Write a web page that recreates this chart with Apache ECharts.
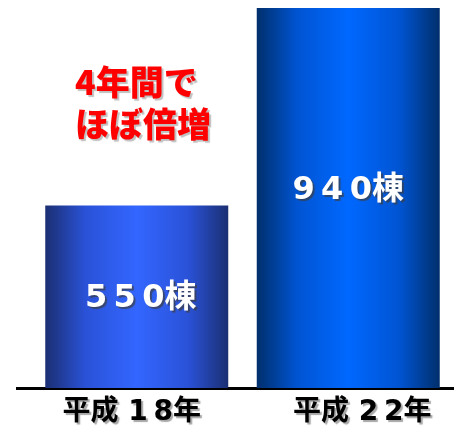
<!DOCTYPE html>
<html>
<head>
<meta charset="utf-8">
<script src="https://cdn.jsdelivr.net/npm/echarts@6/dist/echarts.min.js"></script>
<style>
  html, body { margin: 0; padding: 0; background: #fff; }
  #chart { width: 454px; height: 434px; }
</style>
</head>
<body>
<div id="chart"></div>
<script>
// Building counts by year
const years = ['平成 18年', '平成 22年'];
const counts = [550, 940];
const unit = '棟';
const headline = ['4年間で', 'ほぼ倍増'];

// Per-bar horizontal gradients: dark edges, bright centre
const barColors = [
  ['#1b2f72', '#2a52d8', '#3366ff', '#2a52d8', '#1b2f72'],
  ['#002f6c', '#0054d2', '#0068ff', '#0054d2', '#002f6c']
];

const FONT = '"DejaVu Sans", "Noto Sans CJK JP", sans-serif';
const CJK = '"Noto Sans CJK JP", "Noto Sans", sans-serif';

function gradient(cols) {
  return new echarts.graphic.LinearGradient(0, 0, 1, 0, [
    { offset: 0, color: cols[0] },
    { offset: 0.22, color: cols[1] },
    { offset: 0.5, color: cols[2] },
    { offset: 0.78, color: cols[3] },
    { offset: 1, color: cols[4] }
  ]);
}

const chart = echarts.init(document.getElementById('chart'));
chart.setOption({
  animation: false,
  backgroundColor: '#fff',
  grid: { left: 31, right: -1, top: 8, bottom: 46, containLabel: false },
  xAxis: {
    type: 'category',
    data: years.map((y, i) => ({
      value: y,
      textStyle: { padding: i === 0 ? [0, 10, 0, 0] : [0, 0, 0, 28] }
    })),
    axisLine: { show: false },
    axisTick: { show: false },
    axisLabel: {
      margin: 11,
      fontFamily: FONT,
      fontSize: 28,
      fontWeight: 'bold',
      color: '#000',
      formatter: v => v.replace(/(\d)(?=\d)/g, '$1\u2009'),
      textShadowColor: 'rgba(0,0,0,0.35)',
      textShadowOffsetX: 2,
      textShadowOffsetY: 2,
      textShadowBlur: 1
    }
  },
  yAxis: {
    type: 'value',
    min: 190,
    max: 940,
    show: false
  },
  series: [{
    type: 'bar',
    barWidth: 183,
    data: counts.map((v, i) => ({
      value: v,
      itemStyle: { color: gradient(barColors[i]) },
      label: { offset: i === 0 ? [4, 2] : [0, -7] }
    })),
    label: {
      show: true,
      position: 'inside',
      formatter: p => String(p.value).split('').join('\u2009') + unit,
      fontFamily: FONT,
      fontSize: 32,
      fontWeight: 'bold',
      color: '#fff',
      textShadowColor: 'rgba(60,60,60,0.7)',
      textShadowOffsetX: 2,
      textShadowOffsetY: 2,
      textShadowBlur: 1
    }
  }],
  graphic: [
    {
      type: 'line',
      shape: { x1: 16, y1: 388.5, x2: 454, y2: 388.5 },
      style: { stroke: '#000', lineWidth: 3 }
    },
    {
      type: 'text',
      left: 75,
      top: 61,
      style: {
        text: headline.join('\n'),
        fontFamily: CJK,
        fontSize: 34,
        fontWeight: 900,
        lineHeight: 42,
        fill: '#ff0000',
        textAlign: 'left',
        textShadowColor: 'rgba(0,0,0,0.25)',
        textShadowOffsetX: 2,
        textShadowOffsetY: 2,
        textShadowBlur: 1
      }
    }
  ]
});
</script>
</body>
</html>
